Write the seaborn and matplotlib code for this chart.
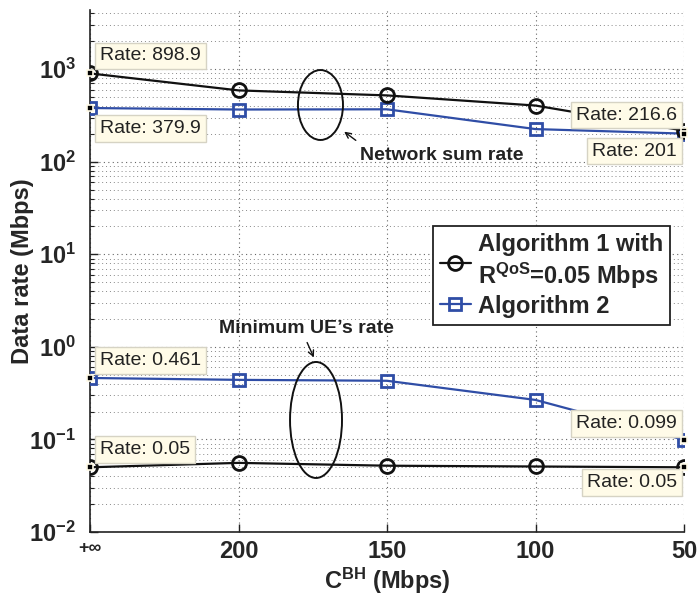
import matplotlib
matplotlib.use("Agg")
import matplotlib.pyplot as plt
import seaborn as sns
import numpy as np
import pandas as pd
from matplotlib.patches import Ellipse
from matplotlib.lines import Line2D

# ---------------- data ----------------
x_labels = ["+\u221e", "200", "150", "100", "50"]
alg1_sum = [898.9, 589, 520, 404, 216.6]
alg2_sum = [379.9, 366, 368, 225, 201]
alg1_min = [0.05, 0.0558, 0.052, 0.051, 0.05]
alg2_min = [0.461, 0.44, 0.43, 0.267, 0.099]
y_ticks = [1e-2, 1e-1, 1e0, 1e1, 1e2, 1e3]
y_tick_labels = [r"$\mathbf{10^{-2}}$", r"$\mathbf{10^{-1}}$", r"$\mathbf{10^{0}}$",
                 r"$\mathbf{10^{1}}$", r"$\mathbf{10^{2}}$", r"$\mathbf{10^{3}}$"]
legend_labels = ["Algorithm 1 with\n$\\mathbf{R^{QoS}}$=0.05 Mbps", "Algorithm 2"]

sns.set_theme(style="ticks")
plt.rcParams["font.family"] = ["Liberation Sans", "DejaVu Sans"]
plt.rcParams["mathtext.fontset"] = "custom"
plt.rcParams["mathtext.rm"] = "Liberation Sans"
plt.rcParams["mathtext.bf"] = "Liberation Sans:bold"
plt.rcParams["mathtext.it"] = "Liberation Sans:italic"

BLACK = "#111111"
BLUE = "#2f4da6"

fig = plt.figure(figsize=(6.99, 5.95), dpi=100)
ax = fig.add_axes([90 / 699, 63 / 595, 594 / 699, 522 / 595])

pos = np.arange(len(x_labels))

common = dict(estimator=None, linewidth=1.6, legend=False, ax=ax)
sns.lineplot(x=pos, y=alg1_sum, color=BLACK, marker="o", ms=10, mew=2,
             mec=BLACK, mfc="none", zorder=4, **common)
sns.lineplot(x=pos, y=alg1_min, color=BLACK, marker="o", ms=10, mew=2,
             mec=BLACK, mfc="none", zorder=4, **common)
sns.lineplot(x=pos, y=alg2_sum, color=BLUE, marker="s", ms=9, mew=2,
             mec=BLUE, mfc="none", zorder=3, **common)
sns.lineplot(x=pos, y=alg2_min, color=BLUE, marker="s", ms=9, mew=2,
             mec=BLUE, mfc="none", zorder=3, **common)

ax.set_yscale("log")
ax.set_ylim(1e-2, 4.35e3)
ax.set_xlim(0, 4)

ax.set_yticks(y_ticks)
ax.set_yticklabels(y_tick_labels)
ax.set_xticks(pos)
ax.set_xticklabels(x_labels)
for lab in ax.get_yticklabels():
    lab.set_fontsize(17)
for i, lab in enumerate(ax.get_xticklabels()):
    lab.set_fontsize(17)
    lab.set_fontweight("bold")
    if i == 0:
        lab.set_fontsize(13)

ax.yaxis.set_minor_locator(matplotlib.ticker.LogLocator(base=10, subs=np.arange(2, 10), numticks=20))
ax.yaxis.set_minor_formatter(matplotlib.ticker.NullFormatter())
ax.tick_params(axis="x", which="major", direction="in", length=6, width=1, color="#222222", pad=6)
ax.tick_params(axis="y", which="major", direction="in", length=6, width=1, color="#222222", pad=10)
ax.tick_params(axis="y", which="minor", direction="in", length=3, width=0.8, color="#222222")
ax.tick_params(axis="x", which="minor", bottom=False)

ax.grid(True, which="major", axis="both", linestyle=(0, (1, 3)), color="#666666", linewidth=0.8)
ax.grid(True, which="minor", axis="y", linestyle=(0, (1, 3)), color="#888888", linewidth=0.7)
for s in ["top", "right"]:
    ax.spines[s].set_visible(False)
for s in ["left", "bottom"]:
    ax.spines[s].set_color("#222222")
    ax.spines[s].set_linewidth(1.2)

ax.set_ylabel("Data rate (Mbps)", fontsize=17, fontweight="bold")
ax.yaxis.set_label_coords(-0.094, 0.5)
ax.set_xlabel(r"$\mathbf{C^{BH}}$ (Mbps)", fontsize=17, fontweight="bold", labelpad=2)

# ---------------- datatips ----------------
bbox = dict(boxstyle="square,pad=0.25", fc="#fffbe8", ec="#d6d3c4", lw=1)
tips = [
    (0, alg1_sum[0], "Rate: 898.9", (10, 9), "left", "bottom"),
    (0, alg2_sum[0], "Rate: 379.9", (10, -12), "left", "top"),
    (4, alg1_sum[4], "Rate: 216.6", (-7, 7), "right", "bottom"),
    (4, alg2_sum[4], "Rate: 201", (-7, -9), "right", "top"),
    (0, alg2_min[0], "Rate: 0.461", (10, 9), "left", "bottom"),
    (0, alg1_min[0], "Rate: 0.05", (10, 9), "left", "bottom"),
    (4, alg2_min[4], "Rate: 0.099", (-7, 8), "right", "bottom"),
    (4, alg1_min[4], "Rate: 0.05", (-7, -7), "right", "top"),
]
for xi, yi, txt, off, ha, va in tips:
    ax.annotate(txt, xy=(xi, yi), xytext=off, textcoords="offset pixels",
                ha=ha, va=va, fontsize=14, color="#222222", bbox=bbox,
                zorder=6, annotation_clip=False)
    ax.plot([xi], [yi], marker="s", ms=5, mfc="black", mec="#fffbe8",
            mew=1.2, zorder=7, clip_on=False)

# ---------------- ellipses & notes ----------------
ax.add_patch(Ellipse((0.388, 0.818), 0.0758, 0.134, transform=ax.transAxes,
                     fill=False, ec=BLACK, lw=1.4, zorder=5))
ax.add_patch(Ellipse((0.3805, 0.2146), 0.0875, 0.2222, transform=ax.transAxes,
                     fill=False, ec=BLACK, lw=1.4, zorder=5))
ax.annotate("", xy=(0.4242, 0.7701), xytext=(0.4512, 0.7471),
            xycoords="axes fraction", textcoords="axes fraction",
            arrowprops=dict(arrowstyle="->", lw=1, color=BLACK, mutation_scale=10))
ax.text(0.5918, 0.7218, "Network sum rate", transform=ax.transAxes,
        ha="center", va="center", fontsize=14, fontweight="bold", color="#222222")
ax.annotate("", xy=(0.3788, 0.3295), xytext=(0.3636, 0.3678),
            xycoords="axes fraction", textcoords="axes fraction",
            arrowprops=dict(arrowstyle="->", lw=1, color=BLACK, mutation_scale=10))
ax.text(0.3636, 0.3889, "Minimum UE\u2019s rate", transform=ax.transAxes,
        ha="center", va="center", fontsize=14, fontweight="bold", color="#222222")

# ---------------- legend ----------------
handles = [
    Line2D([], [], color=BLACK, lw=1.6, marker="o", ms=10, mew=2, mfc="none", mec=BLACK),
    Line2D([], [], color=BLUE, lw=1.6, marker="s", ms=9, mew=2, mfc="none", mec=BLUE),
]
leg = ax.legend(handles, legend_labels, loc="upper left", bbox_to_anchor=(0.5774, 0.586),
                borderaxespad=0, fancybox=False, framealpha=1, edgecolor="#222222",
                handlelength=1.3, handletextpad=0.3, labelspacing=0.15, borderpad=0.3,
                prop=dict(size=17, weight="bold"))
leg.get_frame().set_linewidth(1.3)
leg.set_zorder(8)

fig.savefig("out.png", dpi=100)
